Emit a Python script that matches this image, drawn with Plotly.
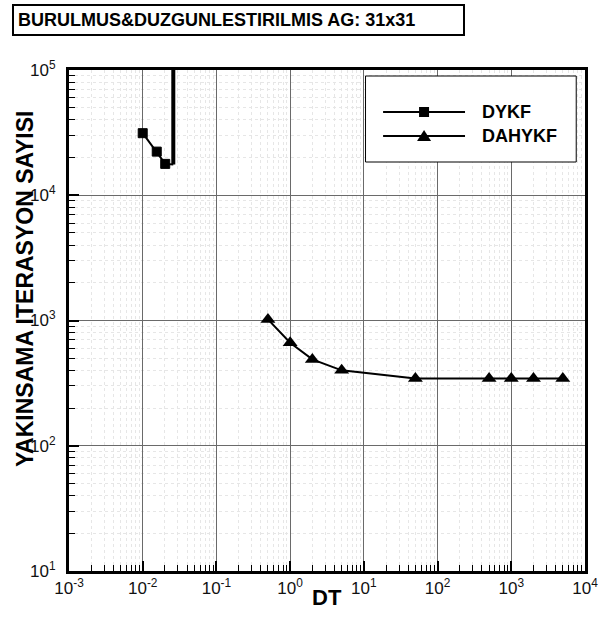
import plotly.graph_objects as go

# ---- data ----
dykf_dt = [0.01, 0.0155, 0.0202, 0.026]
dykf_iter = [31300, 22300, 17800, 17600]
dykf_div_dt = [0.026, 0.026]
dykf_div_iter = [17600, 1e6]

dahykf_dt = [0.5, 1, 2, 5, 50, 500, 1000, 2000, 5000]
dahykf_iter = [1020, 664, 489, 400, 345, 345, 345, 345, 345]

x_tickvals = [1e-3, 1e-2, 1e-1, 1, 10, 100, 1000, 10000]
x_ticktext = ["10<sup>-3</sup>", "10<sup>-2</sup>", "10<sup>-1</sup>", "10<sup>0</sup>",
              "10<sup>1</sup>", "10<sup>2</sup>", "10<sup>3</sup>", "10<sup>4</sup>"]
y_tickvals = [10, 100, 1000, 10000, 100000]
y_ticktext = ["10<sup>1</sup>", "10<sup>2</sup>", "10<sup>3</sup>", "10<sup>4</sup>", "10<sup>5</sup>"]

title_text = "BURULMUS&DUZGUNLESTIRILMIS AG: 31x31"
x_title = "DT"
y_title = "YAKINSAMA ITERASYON SAYISI"
legend_names = ["DYKF", "DAHYKF"]

# ---- layout geometry ----
W, H = 609, 619
ML, MR, MT, MB = 69, 11, 70, 48
PW, PH = W - ML - MR, H - MT - MB


def px(xp):
    return (xp - ML) / PW


def py(yp):
    return (H - MB - yp) / PH


FONT = "Liberation Sans, Arial, sans-serif"

x_minor = [m * 10 ** e for e in range(-3, 4) for m in range(2, 10)]
y_minor = [m * 10 ** e for e in range(1, 5) for m in range(2, 10)]

fig = go.Figure()
fig.add_trace(go.Scatter(
    x=dykf_dt, y=dykf_iter, mode="lines+markers", name=legend_names[0],
    line=dict(color="black", width=2),
    marker=dict(symbol="square", size=[9, 9, 9, 0], color="black", opacity=1,
                line=dict(color="black", width=1)),
    showlegend=False))
fig.add_trace(go.Scatter(
    x=dykf_div_dt, y=dykf_div_iter, mode="lines",
    line=dict(color="black", width=4), showlegend=False))
fig.add_trace(go.Scatter(
    x=dahykf_dt, y=dahykf_iter, mode="lines+markers", name=legend_names[1],
    line=dict(color="black", width=2),
    marker=dict(symbol="triangle-up", size=13, color="black", opacity=1),
    showlegend=False))

axis_common = dict(
    type="log", showline=True, linecolor="black", linewidth=3, mirror=True,
    ticks="inside", ticklen=10, tickwidth=2, tickcolor="black",
    showgrid=True, gridcolor="#6a6a6a", gridwidth=1, zeroline=False,
    tickfont=dict(family=FONT, size=17, color="#111111"),
    ticklabeloverflow="allow",
)
minor_common = dict(tickmode="array", ticks="inside", ticklen=6, tickwidth=1,
                    tickcolor="black", showgrid=True, gridcolor="#e6e6e6",
                    griddash="dot", gridwidth=1)
fig.update_xaxes(range=[-3, 4], tickmode="array", tickvals=x_tickvals, ticktext=x_ticktext,
                 minor=dict(tickvals=x_minor, **minor_common),
                 ticklabelstandoff=0,
                 **axis_common)
fig.update_yaxes(range=[1, 5], tickmode="array", tickvals=y_tickvals, ticktext=y_ticktext,
                 minor=dict(tickvals=y_minor, **minor_common),
                 ticklabelstandoff=7,
                 **axis_common)

shapes = []
annotations = []

# title box
annotations.append(dict(
    text="<b>%s</b>" % title_text, xref="paper", yref="paper",
    x=px(11), y=py(4), xanchor="left", yanchor="top", showarrow=False,
    font=dict(family=FONT, size=18, color="black"), align="left",
    bordercolor="black", borderwidth=2, borderpad=4, bgcolor="white", width=441))

# x title
annotations.append(dict(
    text="<b>%s</b>" % x_title, xref="paper", yref="paper",
    x=px(334), y=py(597), xanchor="center", yanchor="middle",
    showarrow=False, font=dict(family=FONT, size=22, color="black")))

# y title
annotations.append(dict(
    text="<b>%s</b>" % y_title, xref="paper", yref="paper",
    x=px(24), y=py(289), xanchor="center", yanchor="middle", textangle=-90,
    showarrow=False, font=dict(family=FONT, size=23, color="black")))

# manual legend
shapes.append(dict(type="rect", xref="paper", yref="paper",
                   x0=px(373), x1=px(589), y0=py(162), y1=py(76),
                   line=dict(color="black", width=1), fillcolor="white", layer="above"))
rows = [112, 136]
for i, (name, yrow) in enumerate(zip(legend_names, rows)):
    shapes.append(dict(type="line", xref="paper", yref="paper",
                       x0=px(391), x1=px(475), y0=py(yrow), y1=py(yrow),
                       line=dict(color="black", width=2), layer="above"))
    if i == 0:
        path = "M -5,-5 L 5,-5 L 5,5 L -5,5 Z"
    else:
        path = "M -7,-5 L 7,-5 L 0,6 Z"
    shapes.append(dict(type="path", xref="paper", yref="paper",
                       xsizemode="pixel", ysizemode="pixel",
                       xanchor=px(433), yanchor=py(yrow),
                       path=path, fillcolor="black", line=dict(color="black", width=0),
                       layer="above"))
    annotations.append(dict(text="<b>%s</b>" % name, xref="paper", yref="paper",
                            x=px(490), y=py(yrow), xanchor="left", yanchor="middle",
                            showarrow=False, font=dict(family=FONT, size=18, color="black")))

fig.update_layout(
    width=W, height=H, autosize=False,
    margin=dict(l=ML, r=MR, t=MT, b=MB, pad=0),
    paper_bgcolor="white", plot_bgcolor="white",
    showlegend=False, shapes=shapes, annotations=annotations,
    font=dict(family=FONT, color="black"),
)

fig.write_html("out.html")
